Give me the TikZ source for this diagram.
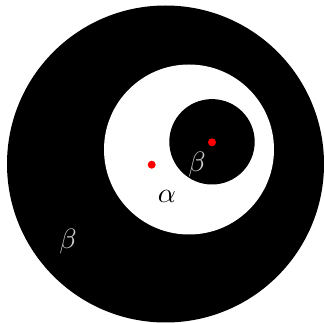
\documentclass[tikz,border=0pt]{standalone}
\usepackage{amsmath,amssymb}
\usetikzlibrary{positioning}

\begin{document}
\begin{tikzpicture}[x=1pt, y=-1pt, dot/.style={circle, fill=red, inner sep=0pt, minimum size=8pt}, lbl/.style={inner sep=0pt, scale=2.8}]
\useasboundingbox (0,0) rectangle (325,323);
\fill[black] (165.5,164) circle (158.5);
\fill[white] (189,149.5) circle (85);
\fill[black] (212,141.8) circle (42.7);
\node[dot] (p1) at (151.7,164.7) {};
\node[dot] (p2) at (212,142.3) {};
\node[lbl, text=black] (a) at (167,196.5) {$\alpha$};
\node[lbl, text=black!20] (b1) at (197,164.5) {$\beta$};
\node[lbl, text=black!20] (b2) at (68,241.5) {$\beta$};
\end{tikzpicture}
\end{document}
